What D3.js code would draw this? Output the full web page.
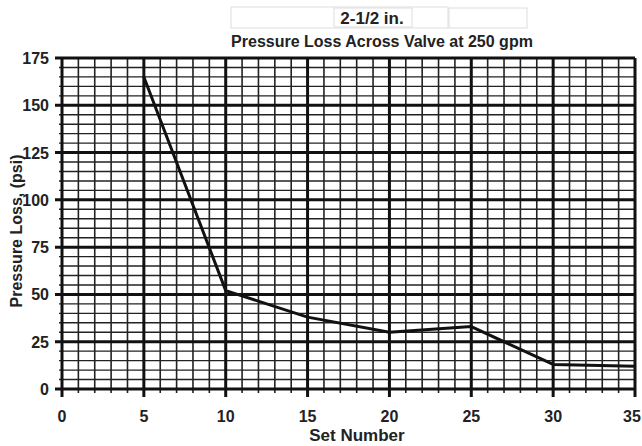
<!DOCTYPE html>
<html>
<head>
<script src="https://d3js.org/d3.v7.min.js"></script>
<style>
  body { margin: 0; background: #fff; }
  text { font-family: "Liberation Sans", Arial, sans-serif; font-weight: bold; fill: #222; }
</style>
</head>
<body>
<div id="chart"></div>
<script>
var setNumbers = [5, 10, 15, 20, 25, 30, 35];
var pressureLoss = [165, 52, 38, 30, 33, 13, 12];
var xTicks = [0, 5, 10, 15, 20, 25, 30, 35];
var yTicks = [0, 25, 50, 75, 100, 125, 150, 175];

var W = 642, H = 446;
var m = { left: 62, right: 7, top: 58, bottom: 57 };

var svg = d3.select("#chart").append("svg")
  .attr("width", W).attr("height", H);

var x = d3.scaleLinear().domain([0, 35]).range([m.left, W - m.right]);
var y = d3.scaleLinear().domain([0, 175]).range([H - m.bottom, m.top]);

// title boxes
svg.append("rect").attr("x", 231).attr("y", 7).attr("width", 217).attr("height", 21)
  .attr("fill", "none").attr("stroke", "#ddd");
svg.append("rect").attr("x", 334).attr("y", 8).attr("width", 78).attr("height", 19)
  .attr("fill", "none").attr("stroke", "#ddd");
svg.append("rect").attr("x", 449).attr("y", 8).attr("width", 78).attr("height", 20)
  .attr("fill", "none").attr("stroke", "#ddd");
svg.append("text").attr("x", 372).attr("y", 24).attr("text-anchor", "middle")
  .style("font-size", "17px").text("2-1/2 in.");
svg.append("text").attr("x", 382).attr("y", 47).attr("text-anchor", "middle")
  .style("font-size", "16px").text("Pressure Loss Across Valve at 250 gpm");

var grid = svg.append("g");

// minor grid
grid.selectAll("line.vx").data(d3.range(1, 35).filter(d => d % 5 !== 0))
  .enter().append("line")
  .attr("x1", d => x(d)).attr("x2", d => x(d))
  .attr("y1", y(175)).attr("y2", y(0) + 4)
  .attr("stroke", "#222").attr("stroke-width", 1.6);
grid.selectAll("line.hy").data(d3.range(5, 175, 5).filter(d => d % 25 !== 0))
  .enter().append("line")
  .attr("x1", x(0) - 3).attr("x2", x(35))
  .attr("y1", d => y(d)).attr("y2", d => y(d))
  .attr("stroke", "#222").attr("stroke-width", 1.4);

// major grid
grid.selectAll("line.vmaj").data(xTicks)
  .enter().append("line")
  .attr("x1", d => x(d)).attr("x2", d => x(d))
  .attr("y1", y(175)).attr("y2", y(0) + 8)
  .attr("stroke", "#111").attr("stroke-width", 3);
grid.selectAll("line.hmaj").data(yTicks)
  .enter().append("line")
  .attr("x1", x(0) - 7).attr("x2", x(35))
  .attr("y1", d => y(d)).attr("y2", d => y(d))
  .attr("stroke", "#111").attr("stroke-width", 3);

// tick labels (last one kept inside the window)
svg.selectAll("text.xt").data(xTicks).enter().append("text")
  .attr("x", d => Math.min(x(d), W - 10)).attr("y", 422).attr("text-anchor", "middle")
  .style("font-size", "16px").text(d => d);
svg.selectAll("text.yt").data(yTicks).enter().append("text")
  .attr("x", 49).attr("y", d => y(d) + 6).attr("text-anchor", "end")
  .style("font-size", "16px").text(d => d);

// axis titles
svg.append("text").attr("x", 357).attr("y", 441).attr("text-anchor", "middle")
  .style("font-size", "17px").text("Set Number");
svg.append("text").attr("transform", "translate(22,231) rotate(-90)")
  .attr("text-anchor", "middle").style("font-size", "16px").text("Pressure Loss, (psi)");

// data line
var line = d3.line().x((d, i) => x(setNumbers[i])).y(d => y(d));
svg.append("path").datum(pressureLoss)
  .attr("d", line).attr("fill", "none")
  .attr("stroke", "#111").attr("stroke-width", 3).attr("stroke-linejoin", "round");
</script>
</body>
</html>
